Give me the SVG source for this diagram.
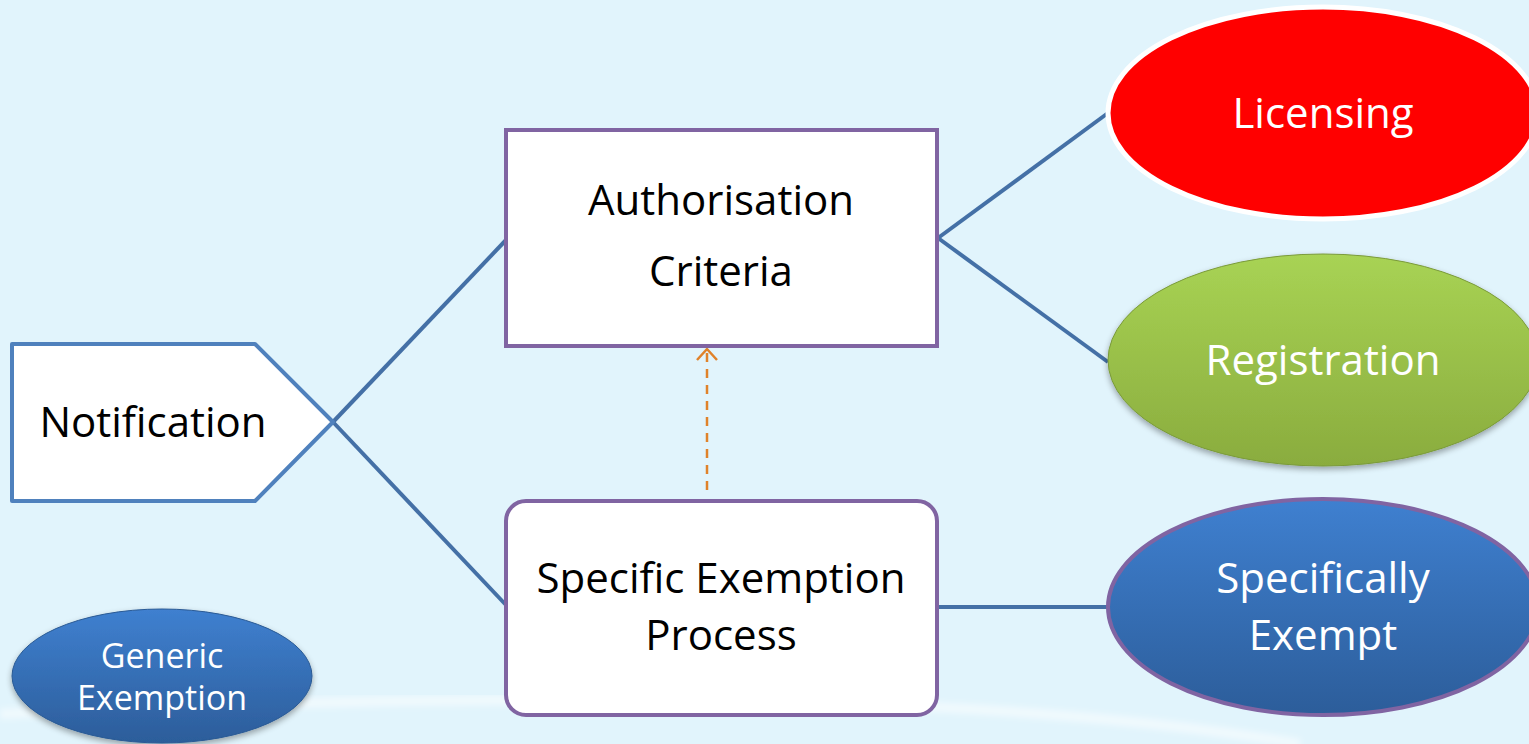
<svg xmlns="http://www.w3.org/2000/svg" width="1529" height="744" viewBox="0 0 1529 744">
<defs>
<style>
.t{font-family:"Open Sans","Noto Sans","Liberation Sans",sans-serif;text-anchor:middle}
.dk{fill:#000}
.wh{fill:#fff}
.conn{stroke:#4470a6;stroke-width:4;fill:none}
.box{fill:#fff;stroke:#8064a2;stroke-width:4}
</style>
<linearGradient id="blue" x1="0" y1="0" x2="0" y2="1">
<stop offset="0" stop-color="#3f80d0"/>
<stop offset="1" stop-color="#2c5d9a"/>
</linearGradient>
<linearGradient id="green" x1="0" y1="0" x2="0" y2="1">
<stop offset="0" stop-color="#a8d354"/>
<stop offset="1" stop-color="#8aac3e"/>
</linearGradient>
<filter id="sh" x="-10%" y="-10%" width="120%" height="125%">
<feGaussianBlur in="SourceAlpha" stdDeviation="3"/>
<feOffset dx="0" dy="3" result="b"/>
<feComponentTransfer><feFuncA type="linear" slope="0.35"/></feComponentTransfer>
<feMerge><feMergeNode/><feMergeNode in="SourceGraphic"/></feMerge>
</filter>
<filter id="blur"><feGaussianBlur stdDeviation="3"/></filter>
<marker id="openArrow" viewBox="0 0 20 24" refX="14" refY="12" markerWidth="20" markerHeight="24" markerUnits="userSpaceOnUse" orient="auto">
<path d="M3 2 L14 12 L3 22" fill="none" stroke="#e0822a" stroke-width="2.5"/>
</marker>
</defs>
<rect width="1529" height="744" fill="#e1f4fc"/>
<path d="M0 714 Q 400 694 800 702 Q 1100 710 1300 744" fill="none" stroke="#ffffff" stroke-opacity="0.5" stroke-width="10" filter="url(#blur)"/>
<g id="connectors">
<line class="conn" x1="333" y1="422" x2="506" y2="240"/>
<line class="conn" x1="333" y1="422" x2="506" y2="605"/>
<line class="conn" x1="938" y1="238" x2="1108" y2="113"/>
<line class="conn" x1="938" y1="238" x2="1108" y2="362"/>
<line class="conn" x1="938" y1="607" x2="1108" y2="607"/>
<line x1="707" y1="490" x2="707" y2="349" stroke="#e0822a" stroke-width="2.5" stroke-dasharray="9,7" marker-end="url(#openArrow)"/>
</g>
<g id="notification">
<path d="M12 344 L255 344 L333 422 L255 501 L12 501 Z" fill="#fff" stroke="#4f81bd" stroke-width="4" stroke-linejoin="round"/>
<text class="t dk" x="153" y="437" font-size="42">Notification</text>
</g>
<g id="authorisation">
<rect class="box" x="506" y="130" width="431" height="216"/>
<text class="t dk" x="721" y="215" font-size="42">Authorisation</text>
<text class="t dk" x="721" y="286" font-size="42">Criteria</text>
</g>
<g id="specific-exemption">
<rect class="box" x="506" y="501" width="431" height="214" rx="20"/>
<text class="t dk" x="721" y="593" font-size="42">Specific Exemption</text>
<text class="t dk" x="721" y="650" font-size="42">Process</text>
</g>
<g id="licensing">
<ellipse cx="1323" cy="113" rx="215" ry="106" fill="#ff0000" stroke="#ffffff" stroke-width="5"/>
<text class="t wh" x="1323" y="128" font-size="42">Licensing</text>
</g>
<g id="registration">
<ellipse cx="1323" cy="360" rx="215" ry="106" fill="url(#green)" stroke="#7a9a3a" stroke-width="1" filter="url(#sh)"/>
<text class="t wh" x="1323" y="375" font-size="42">Registration</text>
</g>
<g id="specifically-exempt">
<ellipse cx="1323" cy="607" rx="215" ry="108" fill="url(#blue)" stroke="#8064a2" stroke-width="4"/>
<text class="t wh" x="1323" y="593" font-size="42">Specifically</text>
<text class="t wh" x="1323" y="650" font-size="42">Exempt</text>
</g>
<g id="generic-exemption">
<ellipse cx="162" cy="676" rx="150" ry="67" fill="url(#blue)" stroke="#2a5a94" stroke-width="1" filter="url(#sh)"/>
<text class="t wh" x="162" y="668" font-size="34">Generic</text>
<text class="t wh" x="162" y="710" font-size="34">Exemption</text>
</g>
</svg>
